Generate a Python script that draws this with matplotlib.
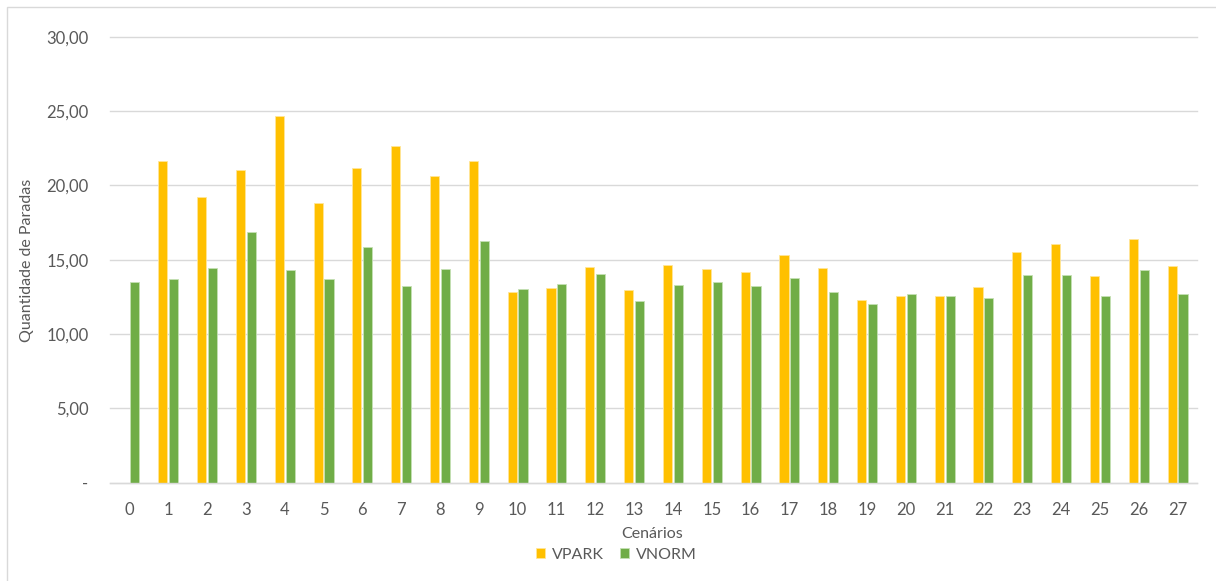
import matplotlib
matplotlib.use("Agg")
import matplotlib.pyplot as plt
import numpy as np
from matplotlib.patches import Rectangle
from matplotlib.ticker import FuncFormatter

plt.rcParams['font.family'] = ['Lato', 'DejaVu Sans']

# Average number of stops per scenario
cenarios = list(range(28))
vpark = [0.0, 21.64, 19.20, 21.06, 24.69, 18.82, 21.15, 22.67, 20.63, 21.66,
         12.81, 13.12, 14.48, 12.95, 14.64, 14.35, 14.14, 15.32, 14.44, 12.27,
         12.56, 12.56, 13.18, 15.52, 16.04, 13.90, 16.39, 14.56]
vnorm = [13.50, 13.68, 14.42, 16.84, 14.29, 13.72, 15.83, 13.21, 14.37, 16.28,
         13.01, 13.36, 14.06, 12.22, 13.30, 13.51, 13.25, 13.75, 12.83, 12.00,
         12.69, 12.54, 12.44, 13.95, 13.99, 12.54, 14.29, 12.69]
series_names = ["VPARK", "VNORM"]
colors = ["#FFC000", "#70AD47"]

W, H = 1216, 581
fig = plt.figure(figsize=(W / 100, H / 100), dpi=100)

# chart-area frame (extends past the right and bottom edges)
fig.patches.append(Rectangle((7 / W, -0.05), 1.1, 1 - 7 / H + 0.05,
                             transform=fig.transFigure, fill=False,
                             edgecolor="#D9D9D9", linewidth=1.0))

ax = fig.add_axes([110 / W, (H - 482.6) / H, (1197 - 110) / W, (482.6 - 36.7) / H])

x = np.arange(len(cenarios))
bw = 0.235
off = 0.14
ax.bar(x - off, vpark, width=bw, color=colors[0], edgecolor="#FFE699",
       linewidth=0.6, label=series_names[0], zorder=3)
ax.bar(x + off, vnorm, width=bw, color=colors[1], edgecolor="#C5E0B4",
       linewidth=0.6, label=series_names[1], zorder=3)

ax.set_xlim(-0.5, len(cenarios) - 0.5)
ax.set_ylim(0, 30)
ax.set_yticks(np.arange(0, 31, 5))


def fmt(v, pos):
    if v == 0:
        return "-"
    return f"{v:.2f}".replace(".", ",")


ax.yaxis.set_major_formatter(FuncFormatter(fmt))
ax.set_xticks(x)
ax.set_xticklabels([str(c) for c in cenarios])

ax.grid(axis="y", color="#D9D9D9", linewidth=1.0, zorder=0)
ax.set_axisbelow(True)
for s in ["top", "right", "left"]:
    ax.spines[s].set_visible(False)
ax.spines["bottom"].set_color("#D9D9D9")
ax.spines["bottom"].set_linewidth(1.0)
ax.spines["bottom"].set_zorder(4)

ax.tick_params(axis="both", length=0, labelsize=12, labelcolor="#595959")
ax.tick_params(axis="y", pad=15.5)
ax.tick_params(axis="x", pad=14)
for gl in ax.get_ygridlines():
    gl.set_clip_on(False)

fig.text(27 / W, 1 - 260 / H, "Quantidade de Paradas", rotation=90,
         ha="center", va="center", fontsize=11.5, color="#595959")
fig.text(652 / W, 1 - 534 / H, "Cenários", ha="center", va="center",
         fontsize=11.5, color="#595959")

leg = fig.legend(loc="center", bbox_to_anchor=(616 / W, 1 - 555 / H), ncol=2,
                 frameon=False, fontsize=11.5, handlelength=0.6, handleheight=0.6,
                 handletextpad=0.4, columnspacing=1.0, borderaxespad=0)
for t in leg.get_texts():
    t.set_color("#595959")

fig.savefig("out.png", dpi=100)
